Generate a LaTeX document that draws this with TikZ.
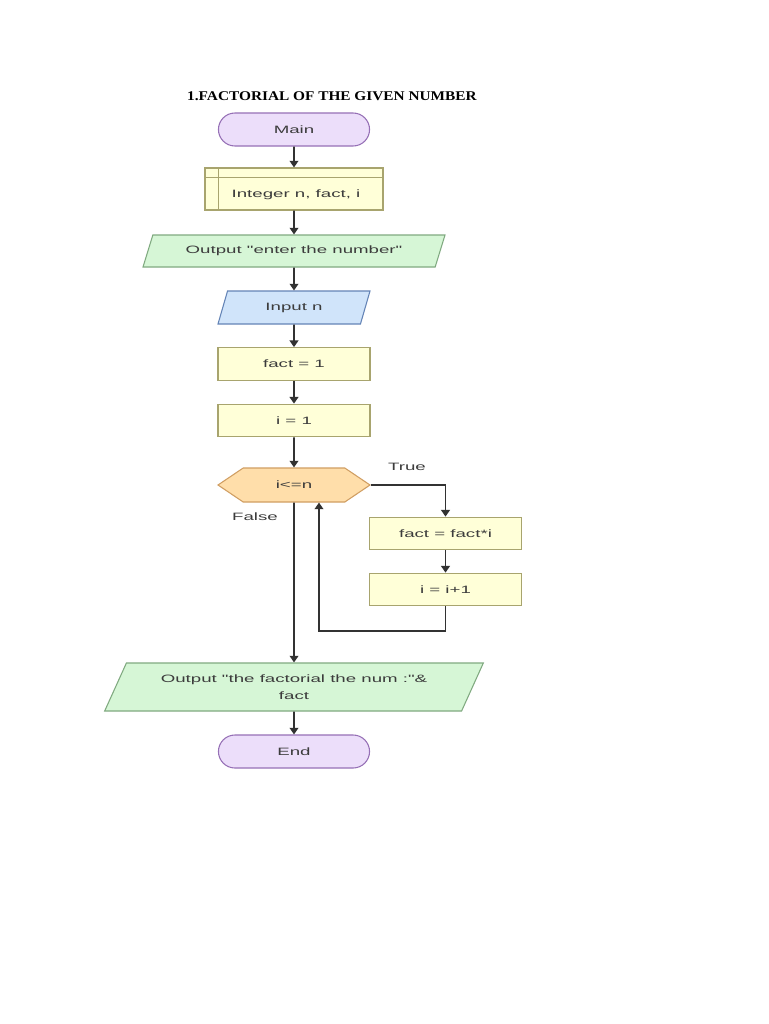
\documentclass[tikz,border=0pt]{standalone}
\usepackage{fontspec}
\setmainfont{Liberation Serif}
\newfontfamily\flowfont[FakeStretch=1.75]{Liberation Sans}
\newfontfamily\titlefont[FakeStretch=1.15]{Liberation Serif}
\usetikzlibrary{arrows.meta,shapes.geometric,shapes.misc,shapes.symbols}
\usepackage{xcolor}

\definecolor{termfill}{RGB}{236,222,250}
\definecolor{termline}{RGB}{150,112,182}
\definecolor{procfill}{RGB}{255,255,216}
\definecolor{procline}{RGB}{168,164,110}
\definecolor{outfill}{RGB}{214,246,214}
\definecolor{outline}{RGB}{128,170,128}
\definecolor{infill}{RGB}{208,228,250}
\definecolor{inline}{RGB}{100,132,182}
\definecolor{condfill}{RGB}{255,222,170}
\definecolor{condline}{RGB}{208,158,98}
\definecolor{textclr}{RGB}{60,60,60}
\definecolor{lineclr}{RGB}{50,50,50}

\begin{document}
\begin{tikzpicture}[x=0.75pt,y=-0.75pt,
    font=\flowfont\fontsize{8pt}{10pt}\selectfont]
\fill[white] (0,0) rectangle (768,1024);
\useasboundingbox (0,0) rectangle (768,1024);

\node[font=\titlefont\bfseries\fontsize{10pt}{12pt}\selectfont] (title) at (332,96)
    {1.FACTORIAL OF THE GIVEN NUMBER};

\begin{scope}[every node/.style={rounded rectangle,draw=termline,fill=termfill,
              line width=0.8pt,text=textclr,minimum width=120pt,minimum height=24.75pt}]
    \node (main) at (294,129.5) {Main};
    \node (end) at (294,751.5) {End};
\end{scope}

\begin{scope}[every node/.style={rectangle,draw=procline,fill=procfill,
              line width=0.8pt,text=textclr,minimum width=114pt,minimum height=24.5pt}]
    \node[minimum width=133.5pt,minimum height=31.5pt] (decl) at (294,189) {};
    \node (fact1) at (294,364) {fact = 1};
    \node (i1) at (294,420.5) {i = 1};
    \node (body1) at (445.5,533.5) {fact = fact*i};
    \node (body2) at (445.5,589.5) {i = i+1};
\end{scope}
\draw[procline,line width=0.8pt] ([xshift=10.5pt]decl.north west) -- ([xshift=10.5pt]decl.south west);
\draw[procline,line width=0.8pt] ([yshift=-7.5pt]decl.north west) -- ([yshift=-7.5pt]decl.north east);
\node[text=textclr] (decltext) at (296,195) {Integer n, fact, i};

\begin{scope}[every node/.style={trapezium,trapezium left angle=52,trapezium right angle=128,
              trapezium stretches body,draw=outline,fill=outfill,line width=0.8pt,
              text=textclr,inner sep=1pt}]
    \node[minimum width=226.5pt,minimum height=24pt] (out1) at (294,251) {Output "enter the number"};
    \node[minimum width=284pt,minimum height=36pt,align=center] (out2) at (294,687)
        {Output "the factorial the num :"\&\\[3pt]fact};
    \node[draw=inline,fill=infill,minimum width=114pt,minimum height=24.75pt] (inp) at (294,307.5) {Input n};
\end{scope}

\node[signal,signal to=east and west,signal pointer angle=68,draw=condline,fill=condfill,
      line width=0.8pt,text=textclr,minimum width=114pt,minimum height=25.5pt,inner sep=1pt]
      (cond) at (294,485) {i<=n};

\node[text=textclr] (truelbl) at (407,467) {True};
\node[text=textclr] (falselbl) at (255,517) {False};

\coordinate (back) at (319,631);

\begin{scope}[>={Triangle[length=5pt,width=6.5pt]},
              every edge/.style={draw=lineclr,line width=1.3pt}]
    \path [->] (main) edge (decl);
    \path [->] (decl) edge (out1);
    \path [->] (out1) edge (inp);
    \path [->] (inp) edge (fact1);
    \path [->] (fact1) edge (i1);
    \path [->] (i1) edge (cond);
    \path [->] (body1) edge (body2);
    \path [->] (cond) edge (out2);
    \path [->] (out2) edge (end);
    \draw [->,draw=lineclr,line width=1.3pt] (cond.east) -| (body1.north);
    \draw [->,draw=lineclr,line width=1.3pt] (body2.south) |- (back) -- (back |- cond.south);
\end{scope}
\end{tikzpicture}
\end{document}
